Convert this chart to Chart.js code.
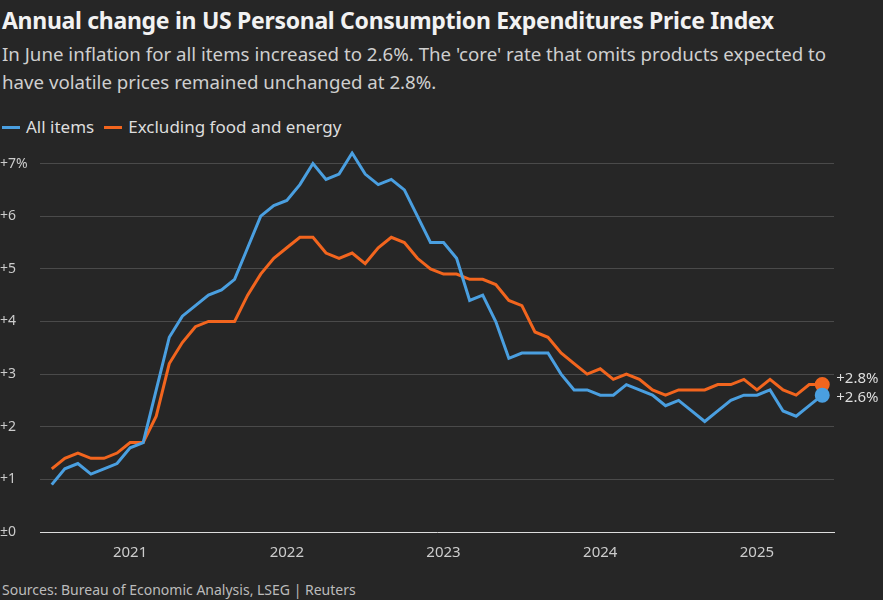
<!DOCTYPE html>
<html>
<head>
<meta charset="utf-8">
<script src="https://cdn.jsdelivr.net/npm/chart.js@4"></script>
<style>
  body { margin: 0; background: #262626; font-family: "Source Sans Pro", "Noto Sans", sans-serif; color: #ddd; width: 883px; height: 600px; overflow: hidden; position: relative; }
  h1 { margin: 0; position: absolute; left: 2px; top: 4px; font-size: 23px; font-weight: bold; color: #f2f2f2; letter-spacing: -0.3px; }
  .sub { position: absolute; left: 2px; top: 40px; font-size: 18.7px; line-height: 28px; color: #cfcfcf; width: 870px; }
  .legend { position: absolute; left: 2px; top: 115px; font-size: 17px; color: #ddd; }
  .legend span { display: inline-block; margin-right: 10px; }
  .legend i { display: inline-block; width: 18px; height: 3px; vertical-align: middle; margin-right: 6px; position: relative; top: -1px; }
  .src { position: absolute; left: 2px; top: 580px; font-size: 14px; color: #bbb; }
  #wrap { position: absolute; left: 0; top: 140px; width: 883px; height: 430px; }
</style>
</head>
<body>
<h1>Annual change in US Personal Consumption Expenditures Price Index</h1>
<div class="sub">In June inflation for all items increased to 2.6%. The 'core' rate that omits products expected to have volatile prices remained unchanged at 2.8%.</div>
<div class="legend"><span><i style="background:#4a9fe0"></i>All items</span><span><i style="background:#f2651e"></i>Excluding food and energy</span></div>
<div id="wrap"><canvas id="c"></canvas></div>
<div class="src">Sources: Bureau of Economic Analysis, LSEG | Reuters</div>
<script>
// Monthly, July 2020 - June 2025
const allItems = [
  0.9, 1.2, 1.3, 1.1, 1.2, 1.3,
  1.6, 1.7, 2.7, 3.7, 4.1, 4.3, 4.5, 4.6, 4.8, 5.4, 6.0, 6.2,
  6.3, 6.6, 7.0, 6.7, 6.8, 7.2, 6.8, 6.6, 6.7, 6.5, 6.0, 5.5,
  5.5, 5.2, 4.4, 4.5, 4.0, 3.3, 3.4, 3.4, 3.4, 3.0, 2.7, 2.7,
  2.6, 2.6, 2.8, 2.7, 2.6, 2.4, 2.5, 2.3, 2.1, 2.3, 2.5, 2.6,
  2.6, 2.7, 2.3, 2.2, 2.4, 2.6
];
const core = [
  1.2, 1.4, 1.5, 1.4, 1.4, 1.5,
  1.7, 1.7, 2.2, 3.2, 3.6, 3.9, 4.0, 4.0, 4.0, 4.5, 4.9, 5.2,
  5.4, 5.6, 5.6, 5.3, 5.2, 5.3, 5.1, 5.4, 5.6, 5.5, 5.2, 5.0,
  4.9, 4.9, 4.8, 4.8, 4.7, 4.4, 4.3, 3.8, 3.7, 3.4, 3.2, 3.0,
  3.1, 2.9, 3.0, 2.9, 2.7, 2.6, 2.7, 2.7, 2.7, 2.8, 2.8, 2.9,
  2.7, 2.9, 2.7, 2.6, 2.8, 2.8
];
const yearTicks = [6, 18, 30, 42, 54];
const yearLabels = ['2021', '2022', '2023', '2024', '2025'];
const yTicks = [0, 1, 2, 3, 4, 5, 6, 7];
const endLabels = ['+2.6%', '+2.8%'];

const blue = '#4a9fe0', orange = '#f2651e';
const last = allItems.length - 1;
const pts = arr => arr.map((v, i) => ({ x: i, y: v }));
const dot = ctx => ctx.dataIndex === last ? 6 : 0;

const endLabelPlugin = {
  id: 'endLabels',
  afterDatasetsDraw(chart) {
    const { ctx, scales } = chart;
    ctx.save();
    ctx.font = '15px "Noto Sans", sans-serif';
    ctx.fillStyle = '#ddd';
    ctx.textBaseline = 'middle';
    chart.data.datasets.forEach((ds, i) => {
      const p = ds.data[last];
      const x = scales.x.getPixelForValue(p.x) + 14;
      const y = scales.y.getPixelForValue(p.y) + (i === 0 ? 3 : -6);
      ctx.fillText(endLabels[i], x, y);
    });
    ctx.restore();
  }
};

new Chart(document.getElementById('c'), {
  type: 'line',
  data: {
    datasets: [
      { data: pts(allItems), borderColor: blue, backgroundColor: blue, borderWidth: 3, pointRadius: dot, pointHoverRadius: 0, tension: 0 },
      { data: pts(core), borderColor: orange, backgroundColor: orange, borderWidth: 3, pointRadius: dot, pointHoverRadius: 0, tension: 0 }
    ]
  },
  options: {
    responsive: true,
    maintainAspectRatio: false,
    animation: false,
    layout: { padding: { left: 0, right: 49, top: 10, bottom: 4 } },
    plugins: { legend: { display: false }, tooltip: { enabled: false } },
    scales: {
      x: {
        type: 'linear', min: -0.9, max: 59.9,
        afterBuildTicks: s => { s.ticks = yearTicks.map(v => ({ value: v })); },
        ticks: { color: '#ccc', font: { size: 15, family: '"Noto Sans", sans-serif' }, padding: 4,
          callback: (v) => yearLabels[yearTicks.indexOf(v)] },
        grid: { display: false },
        border: { color: '#ddd', width: 1 }
      },
      y: {
        min: 0, max: 7.25,
        afterBuildTicks: s => { s.ticks = yTicks.map(v => ({ value: v })); },
        afterFit: s => { s.width = 40; },
        ticks: { color: '#ccc', font: { size: 14, family: '"Noto Sans", sans-serif' }, crossAlign: 'far', padding: 2,
          callback: v => v === 0 ? '±0' : '+' + v + (v === 7 ? '%' : '') },
        grid: { color: ctx => ctx.tick.value === 0 ? 'rgba(0,0,0,0)' : '#4a4a4a', lineWidth: 1, drawTicks: false },
        border: { display: false }
      }
    }
  },
  plugins: [endLabelPlugin]
});
</script>
</body>
</html>
